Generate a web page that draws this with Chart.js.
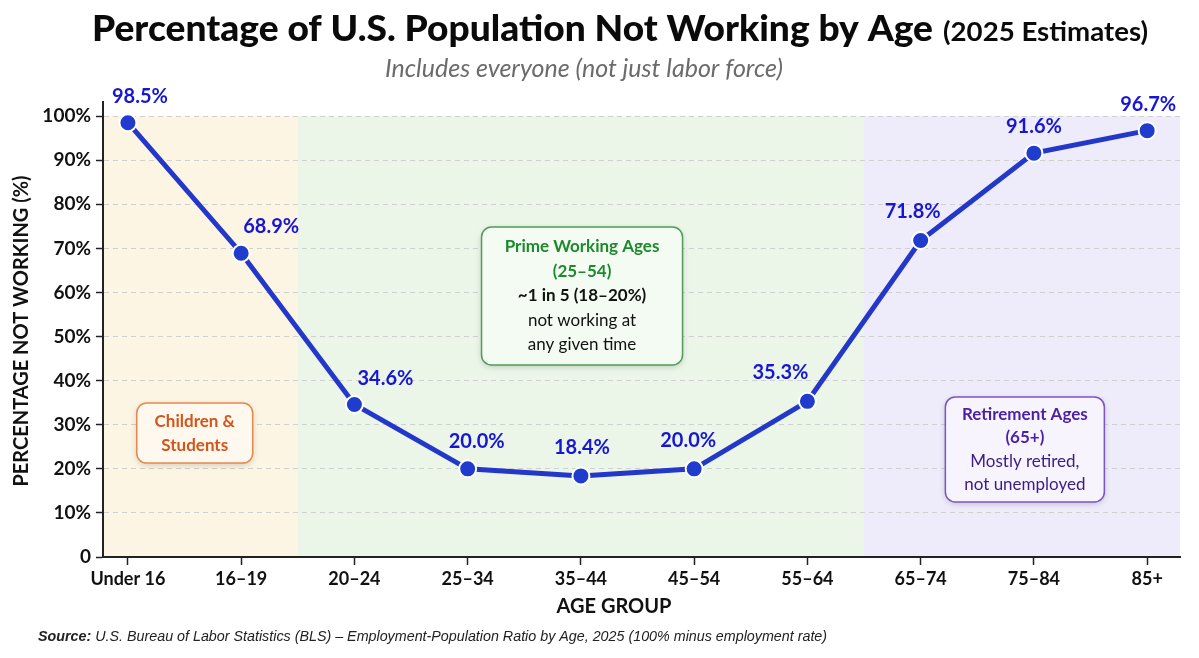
<!DOCTYPE html>
<html>
<head>
<meta charset="utf-8">
<script src="https://cdn.jsdelivr.net/npm/chart.js@4.4.1/dist/chart.umd.min.js"></script>
<style>
html,body{margin:0;padding:0;background:#fff;}
#wrap{width:1199px;height:658px;}
</style>
</head>
<body>
<div id="wrap"><canvas id="c" width="1199" height="658"></canvas></div>
<script>
// ---- data ----
const categories = ['Under 16','16–19','20–24','25–34','35–44','45–54','55–64','65–74','75–84','85+'];
const notWorkingPct = [98.5, 68.9, 34.6, 20.0, 18.4, 20.0, 35.3, 71.8, 91.6, 96.7];
const yTickValues = [0,10,20,30,40,50,60,70,80,90,100];

// ---- texts ----
const titleMain = 'Percentage of U.S. Population Not Working by Age';
const titleParen = '(2025 Estimates)';
const subtitle = 'Includes everyone (not just labor force)';
const yTitle = 'PERCENTAGE NOT WORKING (%)';
const xTitle = 'AGE GROUP';
const sourceBold = 'Source:';
const sourceRest = ' U.S. Bureau of Labor Statistics (BLS) – Employment-Population Ratio by Age, 2025 (100% minus employment rate)';

// shaded groups (boundaries between categories)
const groupBounds = [1.5, 6.5];
const groupColors = ['#fdf5e3', '#ebf6e9', '#eeebfa'];

// annotation boxes
const boxes = [
  { cx: 0.59, cy: 28.1, w: 116, h: 60, fill:'#fff8ef', stroke:'#e38a4c', lh: 24,
    lines:[{t:'Children &', w:'bold', c:'#d2561a'},{t:'Students', w:'bold', c:'#d2561a'}] },
  { cx: 4.01, cy: 59.2, w: 201, h: 138, fill:'#f4fbf3', stroke:'#4f9d58', lh: 24.5,
    lines:[{t:'Prime Working Ages', w:'bold', c:'#1c8a2c'},{t:'(25–54)', w:'bold', c:'#1c8a2c'},
           {t:'~1 in 5 (18–20%)', w:'bold', c:'#111'},{t:'not working at', w:'normal', c:'#111'},{t:'any given time', w:'normal', c:'#111'}] },
  { cx: 7.92, cy: 24.4, w: 159, h: 105, fill:'#f7f4fe', stroke:'#7b55c8', lh: 23.5,
    lines:[{t:'Retirement Ages', w:'bold', c:'#4b1fa6'},{t:'(65+)', w:'bold', c:'#4b1fa6'},
           {t:'Mostly retired,', w:'normal', c:'#3c1b86'},{t:'not unemployed', w:'normal', c:'#3c1b86'}] }
];

// label offsets (px) relative to points
const labelOffsets = [[12,-26],[30,-27],[31,-26],[9,-27],[1,-28],[-6,-28],[-27,-29],[-8,-29],[0,-27],[1,-26]];

Chart.defaults.font.family = 'Lato, "Open Sans", sans-serif';

const bgPlugin = {
  id:'bg',
  beforeDraw(chart){
    const {ctx, chartArea:a, scales:{x,y}} = chart;
    ctx.save();
    ctx.fillStyle = '#fff';
    ctx.fillRect(0,0,chart.width,chart.height);
    const top = y.getPixelForValue(100), bot = y.getPixelForValue(0);
    const edges = [a.left, x.getPixelForValue(groupBounds[0]), x.getPixelForValue(groupBounds[1]), a.right];
    for(let i=0;i<3;i++){
      ctx.fillStyle = groupColors[i];
      ctx.fillRect(edges[i], top, edges[i+1]-edges[i], bot-top);
    }
    ctx.restore();
  }
};

const decoPlugin = {
  id:'deco',
  afterDraw(chart){
    const {ctx, scales:{x,y}} = chart;
    const meta = chart.getDatasetMeta(0);
    ctx.save();
    // data labels
    ctx.font = 'bold 20px Lato';
    ctx.fillStyle = '#1616d4';
    ctx.textAlign = 'center';
    ctx.textBaseline = 'middle';
    meta.data.forEach((p,i)=>{
      const o = labelOffsets[i];
      ctx.fillText(notWorkingPct[i].toFixed(1)+'%', p.x+o[0], p.y+o[1]);
    });
    // boxes
    boxes.forEach(b=>{
      const cx = x.getPixelForValue(b.cx), cy = y.getPixelForValue(b.cy);
      const l = cx-b.w/2, t = cy-b.h/2;
      ctx.save();
      ctx.shadowColor='rgba(0,0,0,0.18)'; ctx.shadowBlur=6; ctx.shadowOffsetY=2;
      ctx.beginPath(); ctx.roundRect(l,t,b.w,b.h,10);
      ctx.fillStyle=b.fill; ctx.fill();
      ctx.restore();
      ctx.beginPath(); ctx.roundRect(l,t,b.w,b.h,10);
      ctx.lineWidth=1.5; ctx.strokeStyle=b.stroke; ctx.stroke();
      const n = b.lines.length;
      b.lines.forEach((ln,k)=>{
        ctx.font = ln.w+' 17px Lato';
        ctx.fillStyle = ln.c;
        ctx.fillText(ln.t, cx, cy + (k-(n-1)/2)*b.lh);
      });
    });
    // title
    ctx.textAlign='left'; ctx.textBaseline='alphabetic';
    ctx.fillStyle='#0a0a0a';
    ctx.font='900 36px Lato';
    let w = ctx.measureText(titleMain).width;
    let sx = Math.max(0.8, Math.min(1.1, 841/w));
    ctx.save(); ctx.translate(92,41); ctx.scale(sx,1); ctx.fillText(titleMain,0,0); ctx.restore();
    ctx.font='bold 26px Lato';
    w = ctx.measureText(titleParen).width;
    sx = Math.max(0.8, Math.min(1.1, 205/w));
    ctx.save(); ctx.translate(943,41); ctx.scale(sx,1); ctx.fillText(titleParen,0,0); ctx.restore();
    // subtitle
    ctx.font='italic 25px Lato'; ctx.fillStyle='#6b6b6b'; ctx.textAlign='center';
    ctx.fillText(subtitle, 584, 77);
    // axis titles
    ctx.fillStyle='#111'; ctx.font='bold 20px Lato'; ctx.textBaseline='middle';
    ctx.fillText(xTitle, 614, 607);
    ctx.save(); ctx.translate(22,331); ctx.rotate(-Math.PI/2); ctx.fillText(yTitle,0,0); ctx.restore();
    // source
    ctx.textAlign='left'; ctx.fillStyle='#222';
    ctx.font='italic bold 14.3px "Liberation Sans", Arial, sans-serif';
    ctx.fillText(sourceBold, 38, 637);
    const sw = ctx.measureText(sourceBold).width;
    ctx.font='italic 14.3px "Liberation Sans", Arial, sans-serif';
    ctx.fillText(sourceRest, 38+sw, 637);
    ctx.restore();
  }
};

new Chart(document.getElementById('c'), {
  type:'line',
  data:{
    datasets:[{
      data: notWorkingPct.map((v,i)=>({x:i, y:v})),
      borderColor:'#2338c9', borderWidth:5,
      pointRadius:8.5, pointHoverRadius:8.5,
      pointBackgroundColor:'#1f3ccc', pointBorderColor:'#ffffff', pointBorderWidth:2,
      tension:0, clip:false
    }]
  },
  options:{
    responsive:false, animation:false, events:[],
    layout:{padding:{top:102, right:19, left:0, bottom:0}},
    plugins:{legend:{display:false}, tooltip:{enabled:false}},
    scales:{
      x:{
        type:'linear', min:-0.22, max:9.29,
        afterBuildTicks: s => { s.ticks = categories.map((c,i)=>({value:i})); },
        afterFit: s => { s.height = 101; },
        ticks:{ autoSkip:false, maxRotation:0, padding:3, color:'#111',
          font:{size:18, weight:'bold'}, callback: v => categories[v] },
        grid:{ drawOnChartArea:false, tickLength:8, tickColor:'#222', tickWidth:1.5 },
        border:{ color:'#222', width:2 }
      },
      y:{
        min:0, max:103.2,
        afterBuildTicks: s => { s.ticks = yTickValues.map(v=>({value:v})); },
        afterFit: s => { s.width = 103; },
        ticks:{ padding:5, color:'#111', font:{size:19, weight:'bold'},
          callback: v => v===0 ? '0' : v+'%' },
        grid:{ color:'#d0d0d0', lineWidth:1, tickLength:7, tickColor:'#222', tickWidth:1.5, tickBorderDash:[] },
        border:{ color:'#222', width:2, dash:[5,4] }
      }
    }
  },
  plugins:[bgPlugin, decoPlugin]
});
</script>
</body>
</html>
